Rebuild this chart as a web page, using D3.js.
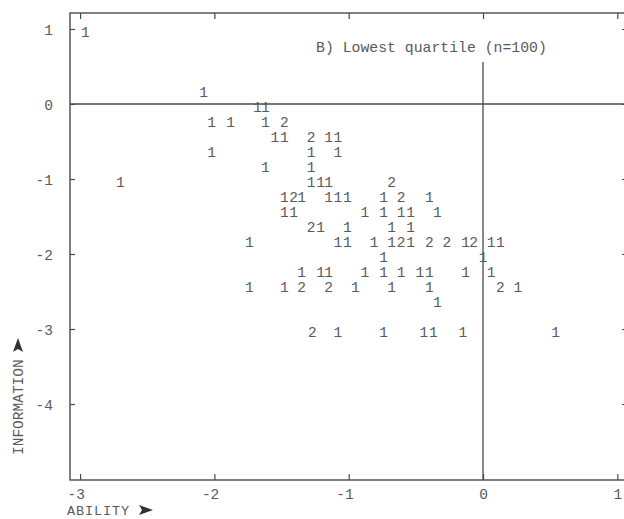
<!DOCTYPE html>
<html>
<head>
<meta charset="utf-8">
<script src="https://cdn.jsdelivr.net/npm/d3@7"></script>
<style>
  body { margin: 0; background: #fff; }
  text { font-family: "Liberation Mono", "Courier New", monospace; fill: #5a5a5a; }
</style>
</head>
<body>
<div id="chart"></div>
<script>
// ability (x), information (y) and count for each printed cell
var abilityVals = [
  -2.96,
  -2.08,
  -1.68, -1.62,
  -2.02, -1.88, -1.62, -1.48,
  -1.55, -1.48, -1.28, -1.15, -1.08,
  -2.02, -1.28, -1.08,
  -1.62, -1.28,
  -2.70, -1.28, -1.21, -1.15, -0.68,
  -1.48, -1.41, -1.35, -1.15, -1.08, -1.01, -0.74, -0.61, -0.40,
  -1.48, -1.41, -0.88, -0.74, -0.61, -0.54, -0.34,
  -1.28, -1.21, -1.01, -0.68, -0.54,
  -1.74, -1.08, -1.01, -0.81, -0.68, -0.61, -0.54, -0.40, -0.27, -0.13, -0.07, 0.06, 0.13,
  -0.74, 0.00,
  -1.35, -1.21, -1.15, -0.88, -0.74, -0.61, -0.47, -0.40, -0.13, 0.06,
  -1.74, -1.48, -1.35, -1.15, -0.95, -0.68, -0.40, 0.13, 0.26,
  -0.34,
  -1.27, -1.08, -0.74, -0.44, -0.37, -0.15, 0.54
];
var infoVals = [
  1.0,
  0.2,
  0, 0,
  -0.2, -0.2, -0.2, -0.2,
  -0.4, -0.4, -0.4, -0.4, -0.4,
  -0.6, -0.6, -0.6,
  -0.8, -0.8,
  -1.0, -1.0, -1.0, -1.0, -1.0,
  -1.2, -1.2, -1.2, -1.2, -1.2, -1.2, -1.2, -1.2, -1.2,
  -1.4, -1.4, -1.4, -1.4, -1.4, -1.4, -1.4,
  -1.6, -1.6, -1.6, -1.6, -1.6,
  -1.8, -1.8, -1.8, -1.8, -1.8, -1.8, -1.8, -1.8, -1.8, -1.8, -1.8, -1.8, -1.8,
  -2.0, -2.0,
  -2.2, -2.2, -2.2, -2.2, -2.2, -2.2, -2.2, -2.2, -2.2, -2.2,
  -2.4, -2.4, -2.4, -2.4, -2.4, -2.4, -2.4, -2.4, -2.4,
  -2.6,
  -3.0, -3.0, -3.0, -3.0, -3.0, -3.0, -3.0
];
var countVals = [
  1,
  1,
  1, 1,
  1, 1, 1, 2,
  1, 1, 2, 1, 1,
  1, 1, 1,
  1, 1,
  1, 1, 1, 1, 2,
  1, 2, 1, 1, 1, 1, 1, 2, 1,
  1, 1, 1, 1, 1, 1, 1,
  2, 1, 1, 1, 1,
  1, 1, 1, 1, 1, 2, 1, 2, 2, 1, 2, 1, 1,
  1, 1,
  1, 1, 1, 1, 1, 1, 1, 1, 1, 1,
  1, 1, 2, 2, 1, 1, 1, 2, 1,
  1,
  2, 1, 1, 1, 1, 1, 1
];
var xTicks = [-3, -2, -1, 0, 1];
var yTicks = [1, 0, -1, -2, -3, -4];
var titleText = "B) Lowest quartile (n=100)";

var svgWidth = 624, svgHeight = 519;
var frame = {left: 70, right: 627, top: 13, bottom: 480};

var svg = d3.select("#chart").append("svg")
  .attr("width", svgWidth)
  .attr("height", svgHeight);

var xScale = d3.scaleLinear().domain([-3.075, 1.072]).range([frame.left, frame.right]);
var yScale = d3.scaleLinear().domain([-5.013, 1.213]).range([frame.bottom, frame.top]);

var ink = "#4a4a4a";

// frame
svg.append("rect")
  .attr("x", frame.left).attr("y", frame.top)
  .attr("width", frame.right - frame.left)
  .attr("height", frame.bottom - frame.top)
  .attr("fill", "none").attr("stroke", ink).attr("stroke-width", 1.4);

// reference lines at 0
svg.append("line")
  .attr("x1", frame.left).attr("x2", frame.right)
  .attr("y1", yScale(0)).attr("y2", yScale(0))
  .attr("stroke", ink).attr("stroke-width", 1.4);
svg.append("line")
  .attr("x1", xScale(0)).attr("x2", xScale(0))
  .attr("y1", yScale(0.56)).attr("y2", frame.bottom)
  .attr("stroke", ink).attr("stroke-width", 1.3);

// axes with inward ticks
var bottomAxis = d3.axisBottom(xScale).tickValues(xTicks).tickSize(-6).tickFormat(d => String(d));
var topAxis = d3.axisTop(xScale).tickValues(xTicks).tickSize(-6).tickFormat("");
var leftAxis = d3.axisLeft(yScale).tickValues(yTicks).tickSize(-5).tickFormat(d => String(d));
var rightAxis = d3.axisRight(yScale).tickValues(yTicks).tickSize(-5).tickFormat("");

function styleAxis(g) {
  g.select(".domain").remove();
  g.selectAll(".tick line").attr("stroke", ink).attr("stroke-width", 1.2);
  g.selectAll("text").style("font-size", "14.5px").style("fill", "#5a5a5a")
    .style("font-family", '"Liberation Mono", "Courier New", monospace');
}

var gb = svg.append("g").attr("transform", `translate(0,${frame.bottom})`).call(bottomAxis).call(styleAxis);
gb.selectAll(".tick text")
  .attr("text-anchor", "end").attr("x", 4.4).attr("y", 0).attr("dy", 18.5);

svg.append("g").attr("transform", `translate(0,${frame.top})`).call(topAxis).call(styleAxis);

var gl = svg.append("g").attr("transform", `translate(${frame.left},0)`).call(leftAxis).call(styleAxis);
gl.selectAll(".tick text")
  .attr("text-anchor", "end").attr("x", -17).attr("dy", "0.35em");

svg.append("g").attr("transform", `translate(${frame.right},0)`).call(rightAxis).call(styleAxis);

// counts printed as digits
var cells = abilityVals.map((a, i) => ({x: a, y: infoVals[i], n: countVals[i]}));
svg.append("g").selectAll("text")
  .data(cells)
  .enter()
  .append("text")
  .attr("x", d => xScale(d.x))
  .attr("y", d => yScale(d.y) + 8)
  .attr("text-anchor", "middle")
  .style("font-size", "14.5px")
  .text(d => d.n);

// title
svg.append("text")
  .attr("x", 316).attr("y", 52)
  .style("font-size", "14.8px")
  .text(titleText);

// axis titles with arrowheads
svg.append("text")
  .attr("x", 67).attr("y", 514.5)
  .attr("textLength", 62)
  .style("font-size", "13.5px")
  .text("ABILITY");
svg.append("path")
  .attr("d", "M139,505 L153,510 L139,515 L142,510 Z")
  .attr("fill", "#333");

svg.append("text")
  .attr("transform", "translate(23,455) rotate(-90)")
  .style("font-size", "14.5px")
  .text("INFORMATION");
svg.append("path")
  .attr("d", "M13,352 L18,338 L23,352 L18,349 Z")
  .attr("fill", "#333");
</script>
</body>
</html>
